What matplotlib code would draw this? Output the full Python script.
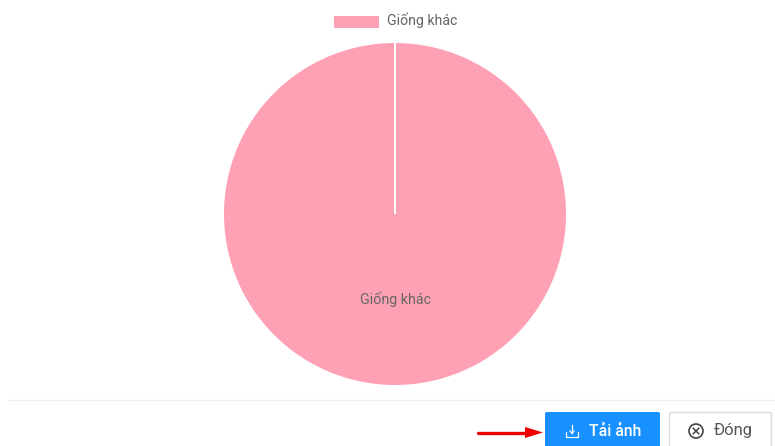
#!/usr/bin/env python3
import numpy as np
import matplotlib
matplotlib.use("Agg")
import matplotlib.pyplot as plt
from matplotlib.patches import FancyBboxPatch, Rectangle, Circle

# Chart data
labels = ["Giống khác"]
values = [100]

W, H = 775, 446
PINK = "#ffa1b5"
TEXT = "#666666"
BLUE = "#1890ff"

plt.rcParams["font.family"] = ["Roboto", "DejaVu Sans"]

fig = plt.figure(figsize=(W / 100, H / 100), dpi=100, facecolor="white")

# Pie, single slice starting at 12 o'clock
cx, cy, r = 395, 214, 171
ax = fig.add_axes([(cx - r) / W, 1 - (cy + r) / H, 2 * r / W, 2 * r / H])
wedges, _ = ax.pie(values, colors=[PINK], startangle=90, counterclock=False,
                   radius=1.0, wedgeprops=dict(edgecolor="none"))
ax.set_xlim(-1, 1)
ax.set_ylim(-1, 1)

# A full circle has no radial edge, so the slice border is drawn by hand
w = wedges[0]
a = np.deg2rad(w.theta2)
ax.plot([w.center[0], w.center[0] + w.r * np.cos(a)],
        [w.center[1], w.center[1] + w.r * np.sin(a)],
        color="white", lw=1.44, solid_capstyle="butt", clip_on=False)
ax.text(0, -0.5, labels[0], ha="center", va="center", fontsize=10.3, color=TEXT)

# Legend and dialog footer live in a pixel-coordinate overlay
ui = fig.add_axes([0, 0, 1, 1], facecolor="none")
ui.set_xlim(0, W)
ui.set_ylim(H, 0)
ui.axis("off")

ui.add_patch(Rectangle((334, 15.5), 44.5, 12, facecolor=PINK, edgecolor="none"))
ui.text(387, 20.5, labels[0], ha="left", va="center", fontsize=10.2, color=TEXT)

# Footer divider
ui.plot([8, 775], [400, 400], color="#efefef", lw=1)

# Download button
ui.add_patch(FancyBboxPatch((545, 412), 115, 50, boxstyle="round,pad=0,rounding_size=2",
                            facecolor=BLUE, edgecolor="none"))
ui.plot([566, 566, 578, 578], [432, 436.5, 436.5, 432], color="white", lw=0.9)
ui.plot([572, 572], [425, 433], color="white", lw=0.9)
ui.plot([570, 572, 574], [431, 433.5, 431], color="white", lw=0.9)
ui.text(589, 431, "Tải ảnh", ha="left", va="center", fontsize=11.3,
        color="white", fontweight="medium")

# Close button
ui.add_patch(FancyBboxPatch((669.5, 412.5), 102, 50, boxstyle="round,pad=0,rounding_size=2",
                            facecolor="white", edgecolor="#d9d9d9", lw=1))
ui.add_patch(Circle((696, 431), 7, facecolor="none", edgecolor="#444444", lw=1.2))
ui.plot([693.3, 698.7], [428.3, 433.7], color="#444444", lw=1.1)
ui.plot([693.3, 698.7], [433.7, 428.3], color="#444444", lw=1.1)
ui.text(714, 431, "Đóng", ha="left", va="center", fontsize=12, color="#555555")

# Red arrow pointing at the download button
ui.plot([478, 527], [432.5, 432.5], color="#f00000", lw=2.4, solid_capstyle="round")
ui.fill([525, 543, 525], [427, 432.5, 438], color="#f00000", lw=0)

fig.savefig("out.png", dpi=100)
